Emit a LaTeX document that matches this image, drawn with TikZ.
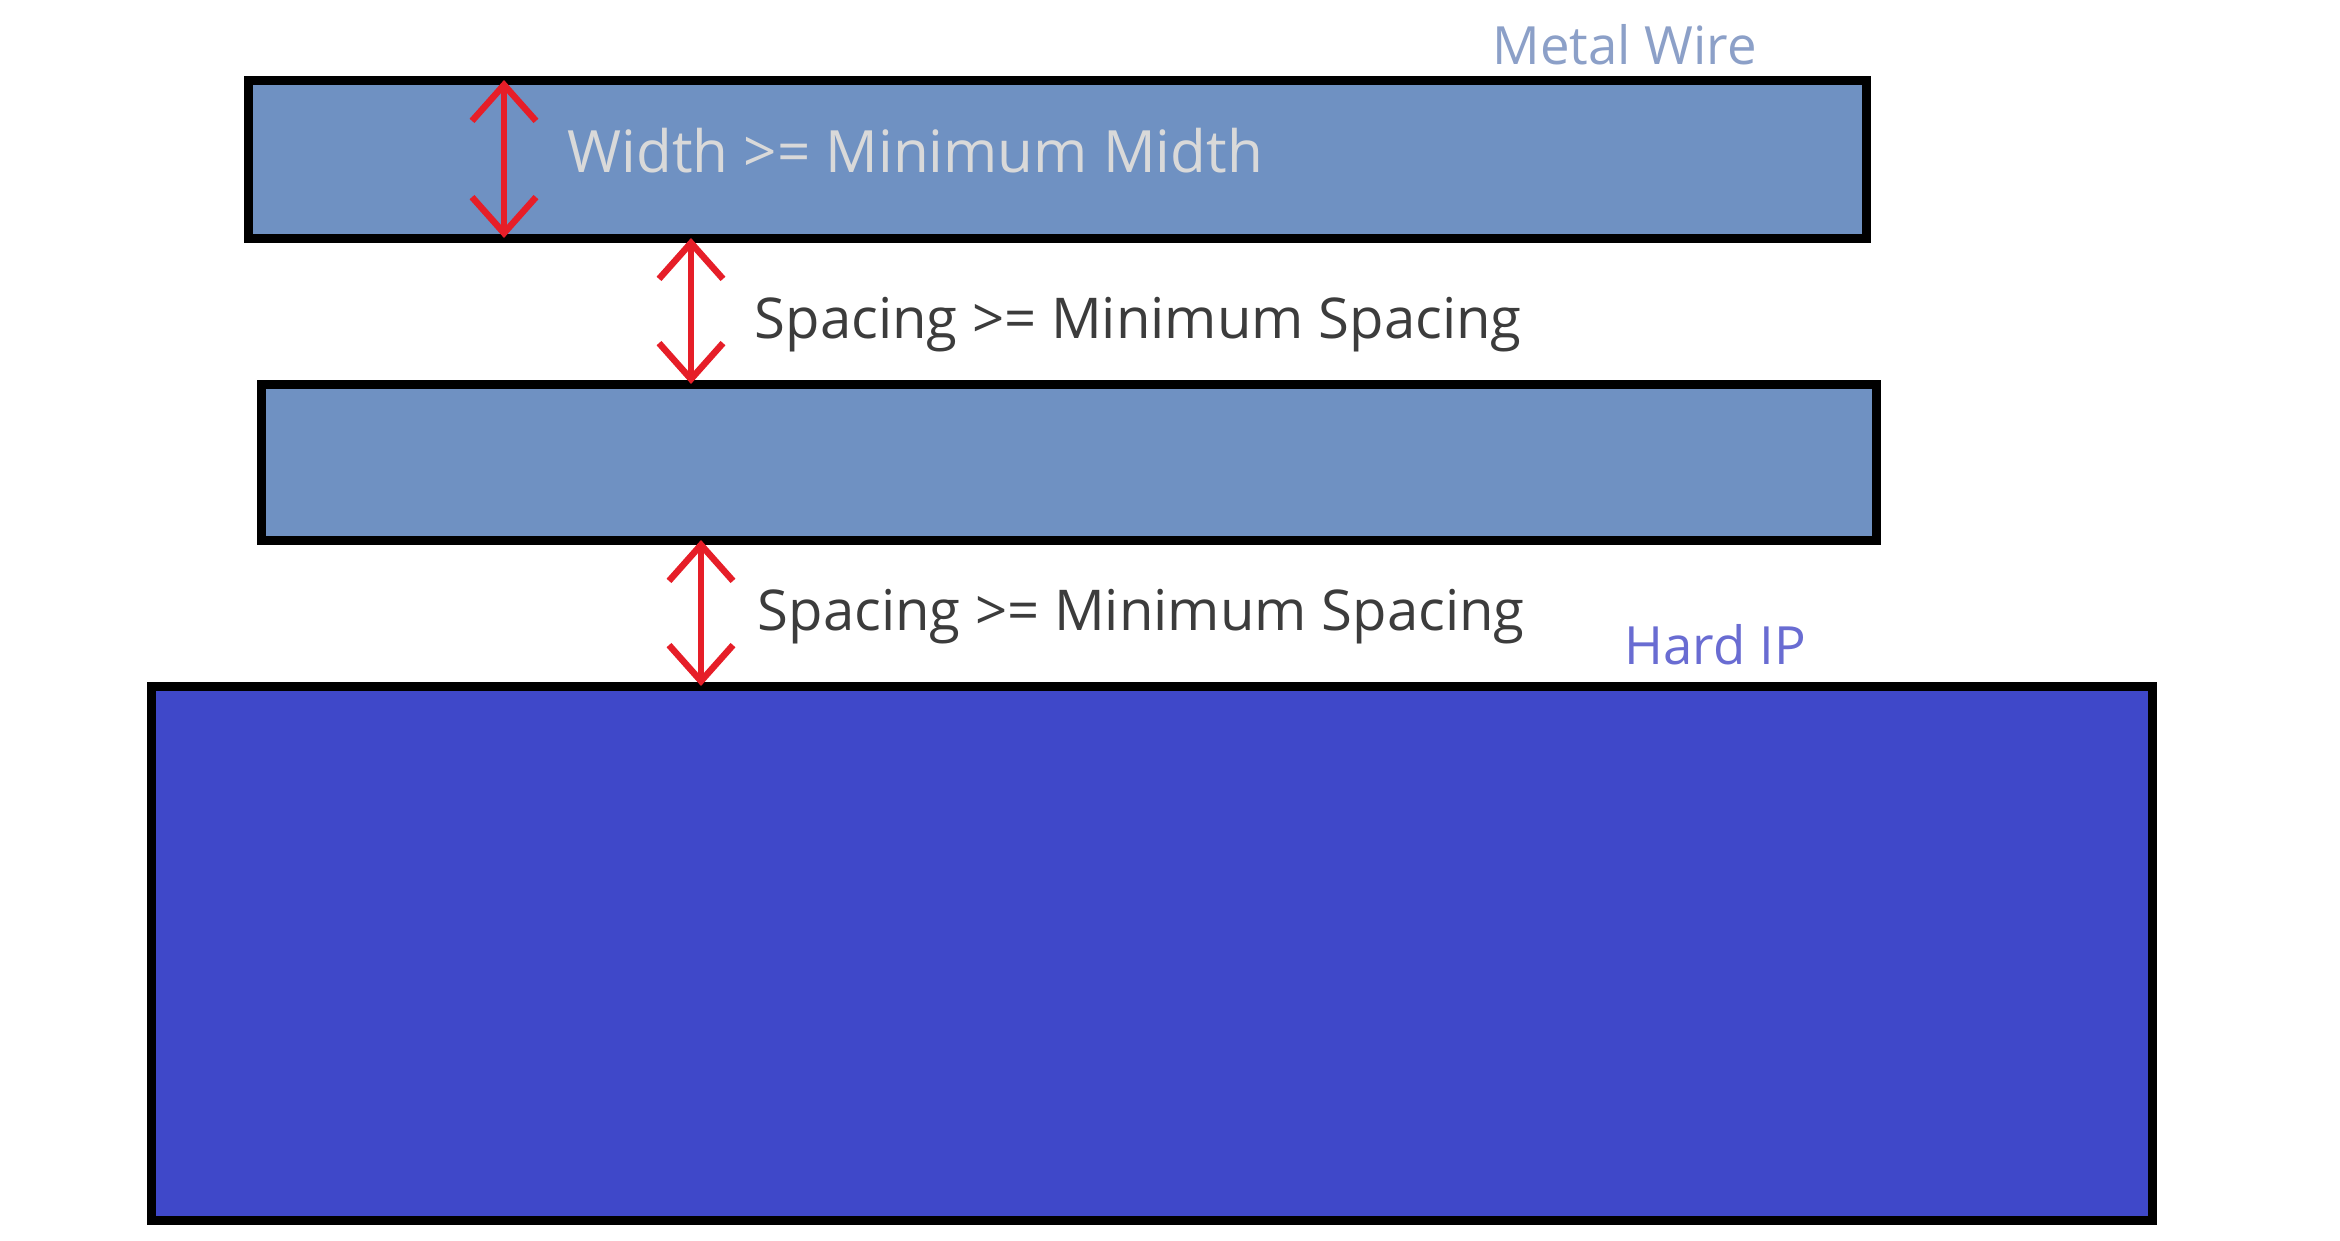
\documentclass[tikz,border=0pt]{standalone}
\usepackage{fontspec}
\setmainfont{Open Sans}
\usetikzlibrary{arrows.meta,fit}

\definecolor{wireblue}{RGB}{111,145,194}
\definecolor{ipblue}{RGB}{63,72,201}
\definecolor{wirelabel}{RGB}{140,160,200}
\definecolor{iplabel}{RGB}{105,108,210}
\definecolor{rulered}{RGB}{230,30,40}
\definecolor{ruletext}{RGB}{60,60,60}

\tikzset{
  layer/.style={draw=black, line width=0.9mm, inner sep=0pt, outer sep=0pt},
  wire/.style={layer, fill=wireblue},
  hardip/.style={layer, fill=ipblue},
  dim/.style={draw=rulered, line width=0.65mm,
    {Straight Barb[length=3.6mm,width=6.4mm]}-{Straight Barb[length=3.6mm,width=6.4mm]}},
  rulelabel/.style={anchor=west, inner sep=0pt, font=\fontsize{16}{18}\selectfont, text=ruletext},
  tag/.style={anchor=west, inner sep=0pt, font=\fontsize{15}{17}\selectfont},
}

\begin{document}
\begin{tikzpicture}[x=0.1mm,y=-0.1mm]
  % page frame
  \fill[white] (0,0) rectangle (2340,1240);
  \useasboundingbox (0,0) rectangle (2340,1240);

  % metal wires and the hard IP block
  \node[wire, fit={(248,80) (1866,238)}] (wire1) {};
  \node[wire, fit={(261,384) (1876,540)}] (wire2) {};
  \node[hardip, fit={(151,686) (2152,1220)}] (ip) {};

  % x positions of the dimension arrows
  \coordinate (xw) at (504,0);
  \coordinate (xs1) at (691,0);
  \coordinate (xs2) at (701,0);

  % dimension arrows
  \draw[dim] (wire1.north -| xw) -- (wire1.south -| xw);
  \draw[dim] (wire1.south -| xs1) -- (wire2.north -| xs1);
  \draw[dim] (wire2.south -| xs2) -- (ip.north -| xs2);

  % rule labels
  \node[rulelabel, text=white!85!black, font=\fontsize{16.6}{18}\selectfont] (lw) at (567,151) {Width >= Minimum Midth};
  \node[rulelabel] (ls1) at (754,325) {Spacing >= Minimum Spacing};
  \node[rulelabel] (ls2) at (757,617) {Spacing >= Minimum Spacing};

  % layer names
  \node[tag, text=wirelabel] (tw) at (1492,45) {Metal Wire};
  \node[tag, text=iplabel] (tip) at (1624,645) {Hard IP};
\end{tikzpicture}
\end{document}
